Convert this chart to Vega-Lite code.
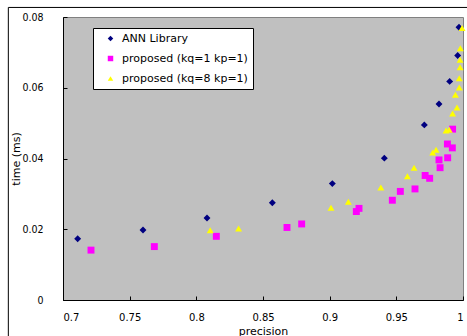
{
  "$schema": "https://vega.github.io/schema/vega-lite/v6.json",
  "width": 400,
  "height": 283,
  "autosize": {"type": "none"},
  "padding": {"left": 63, "top": 17, "right": 4, "bottom": 36},
  "background": "white",
  "config": {
    "view": {"fill": "#C0C0C0", "stroke": "#808080", "strokeWidth": 1},
    "font": "DejaVu Sans",
    "axis": {
      "grid": false,
      "domainColor": "black",
      "tickColor": "black",
      "labelColor": "black",
      "titleColor": "black",
      "labelFont": "DejaVu Sans",
      "titleFont": "DejaVu Sans",
      "labelFontSize": 10,
      "titleFontSize": 11,
      "titleFontWeight": "normal",
      "tickSize": -4
    },
    "legend": {
      "labelFont": "DejaVu Sans",
      "labelFontSize": 11,
      "labelColor": "black"
    }
  },
  "datasets": {
    "pts": [
      {"series": "ANN Library", "precision": 0.711, "time": 0.0173},
      {"series": "ANN Library", "precision": 0.760, "time": 0.0198},
      {"series": "ANN Library", "precision": 0.808, "time": 0.0232},
      {"series": "ANN Library", "precision": 0.857, "time": 0.0275},
      {"series": "ANN Library", "precision": 0.902, "time": 0.0329},
      {"series": "ANN Library", "precision": 0.941, "time": 0.0401},
      {"series": "ANN Library", "precision": 0.971, "time": 0.0495},
      {"series": "ANN Library", "precision": 0.982, "time": 0.0554},
      {"series": "ANN Library", "precision": 0.990, "time": 0.0618},
      {"series": "ANN Library", "precision": 0.996, "time": 0.0691},
      {"series": "ANN Library", "precision": 0.997, "time": 0.0771},
      {"series": "proposed (kq=1 kp=1)", "precision": 0.721, "time": 0.0141},
      {"series": "proposed (kq=1 kp=1)", "precision": 0.7685, "time": 0.0151},
      {"series": "proposed (kq=1 kp=1)", "precision": 0.815, "time": 0.0180},
      {"series": "proposed (kq=1 kp=1)", "precision": 0.868, "time": 0.0205},
      {"series": "proposed (kq=1 kp=1)", "precision": 0.879, "time": 0.0215},
      {"series": "proposed (kq=1 kp=1)", "precision": 0.920, "time": 0.0250},
      {"series": "proposed (kq=1 kp=1)", "precision": 0.922, "time": 0.0259},
      {"series": "proposed (kq=1 kp=1)", "precision": 0.947, "time": 0.0282},
      {"series": "proposed (kq=1 kp=1)", "precision": 0.953, "time": 0.0307},
      {"series": "proposed (kq=1 kp=1)", "precision": 0.964, "time": 0.0314},
      {"series": "proposed (kq=1 kp=1)", "precision": 0.9716, "time": 0.0352},
      {"series": "proposed (kq=1 kp=1)", "precision": 0.975, "time": 0.0344},
      {"series": "proposed (kq=1 kp=1)", "precision": 0.9828, "time": 0.0374},
      {"series": "proposed (kq=1 kp=1)", "precision": 0.982, "time": 0.0396},
      {"series": "proposed (kq=1 kp=1)", "precision": 0.9885, "time": 0.0402},
      {"series": "proposed (kq=1 kp=1)", "precision": 0.9883, "time": 0.0441},
      {"series": "proposed (kq=1 kp=1)", "precision": 0.992, "time": 0.0430},
      {"series": "proposed (kq=1 kp=1)", "precision": 0.9922, "time": 0.0483},
      {"series": "proposed (kq=8 kp=1)", "precision": 0.8104, "time": 0.0197},
      {"series": "proposed (kq=8 kp=1)", "precision": 0.8317, "time": 0.0202},
      {"series": "proposed (kq=8 kp=1)", "precision": 0.901, "time": 0.0261},
      {"series": "proposed (kq=8 kp=1)", "precision": 0.914, "time": 0.0278},
      {"series": "proposed (kq=8 kp=1)", "precision": 0.9384, "time": 0.0318},
      {"series": "proposed (kq=8 kp=1)", "precision": 0.9583, "time": 0.0350},
      {"series": "proposed (kq=8 kp=1)", "precision": 0.9633, "time": 0.0374},
      {"series": "proposed (kq=8 kp=1)", "precision": 0.9773, "time": 0.0417},
      {"series": "proposed (kq=8 kp=1)", "precision": 0.9798, "time": 0.0425},
      {"series": "proposed (kq=8 kp=1)", "precision": 0.9873, "time": 0.0479},
      {"series": "proposed (kq=8 kp=1)", "precision": 0.9897, "time": 0.0481},
      {"series": "proposed (kq=8 kp=1)", "precision": 0.9922, "time": 0.0527},
      {"series": "proposed (kq=8 kp=1)", "precision": 0.9955, "time": 0.0544},
      {"series": "proposed (kq=8 kp=1)", "precision": 0.9943, "time": 0.0580},
      {"series": "proposed (kq=8 kp=1)", "precision": 0.9972, "time": 0.0601},
      {"series": "proposed (kq=8 kp=1)", "precision": 0.9972, "time": 0.0627},
      {"series": "proposed (kq=8 kp=1)", "precision": 0.9978, "time": 0.0658},
      {"series": "proposed (kq=8 kp=1)", "precision": 0.9978, "time": 0.0679},
      {"series": "proposed (kq=8 kp=1)", "precision": 0.998, "time": 0.0712},
      {"series": "proposed (kq=8 kp=1)", "precision": 0.9993, "time": 0.0769}
    ],
    "frame": [{"left": 0.659, "top": 0.0827, "bottom": -0.02, "right": 1.02}]
  },
  "layer": [
    {
      "data": {"name": "pts"},
      "mark": {"type": "point", "filled": true, "opacity": 1, "size": 48, "strokeWidth": 0},
      "encoding": {
        "x": {
          "field": "precision", "type": "quantitative",
          "scale": {"domain": [0.7, 1], "nice": false, "zero": false},
          "axis": {"values": [0.7, 0.75, 0.8, 0.85, 0.9, 0.95, 1], "format": "~g", "title": "precision", "labelPadding": 16, "titlePadding": 3}
        },
        "y": {
          "field": "time", "type": "quantitative",
          "scale": {"domain": [0, 0.08], "nice": false},
          "axis": {"values": [0, 0.01, 0.02, 0.03, 0.04, 0.05, 0.06, 0.07, 0.08], "format": "~g", "title": "time (ms)", "labelPadding": 24, "titlePadding": 0, "labelFont": "Liberation Sans Narrow, DejaVu Sans Condensed, sans-serif", "labelFontSize": 10.5}
        },
        "color": {
          "field": "series", "type": "nominal",
          "scale": {"domain": ["ANN Library", "proposed (kq=1 kp=1)", "proposed (kq=8 kp=1)"], "range": ["#000080", "#FF00FF", "#FFFF00"]},
          "legend": {
            "title": null, "orient": "none", "legendX": 30, "legendY": 11,
            "fillColor": "white", "strokeColor": "black", "padding": 5,
            "symbolOffset": 7, "symbolSize": 30, "labelOffset": 6, "rowPadding": 8
          }
        },
        "shape": {
          "field": "series", "type": "nominal",
          "scale": {"domain": ["ANN Library", "proposed (kq=1 kp=1)", "proposed (kq=8 kp=1)"], "range": ["diamond", "square", "triangle-up"]},
          "legend": {
            "title": null, "orient": "none", "legendX": 30, "legendY": 11,
            "fillColor": "white", "strokeColor": "black", "padding": 5,
            "symbolOffset": 7, "symbolSize": 30, "labelOffset": 6, "rowPadding": 8
          }
        }
      }
    },
    {
      "data": {"name": "frame"},
      "mark": {"type": "rule", "color": "black", "strokeWidth": 1, "clip": false},
      "encoding": {
        "x": {"field": "left", "type": "quantitative"},
        "y": {"field": "top", "type": "quantitative"},
        "y2": {"field": "bottom"}
      }
    },
    {
      "data": {"name": "frame"},
      "mark": {"type": "rule", "color": "black", "strokeWidth": 1, "clip": false},
      "encoding": {
        "x": {"field": "left", "type": "quantitative"},
        "x2": {"field": "right"},
        "y": {"field": "top", "type": "quantitative"}
      }
    }
  ]
}
